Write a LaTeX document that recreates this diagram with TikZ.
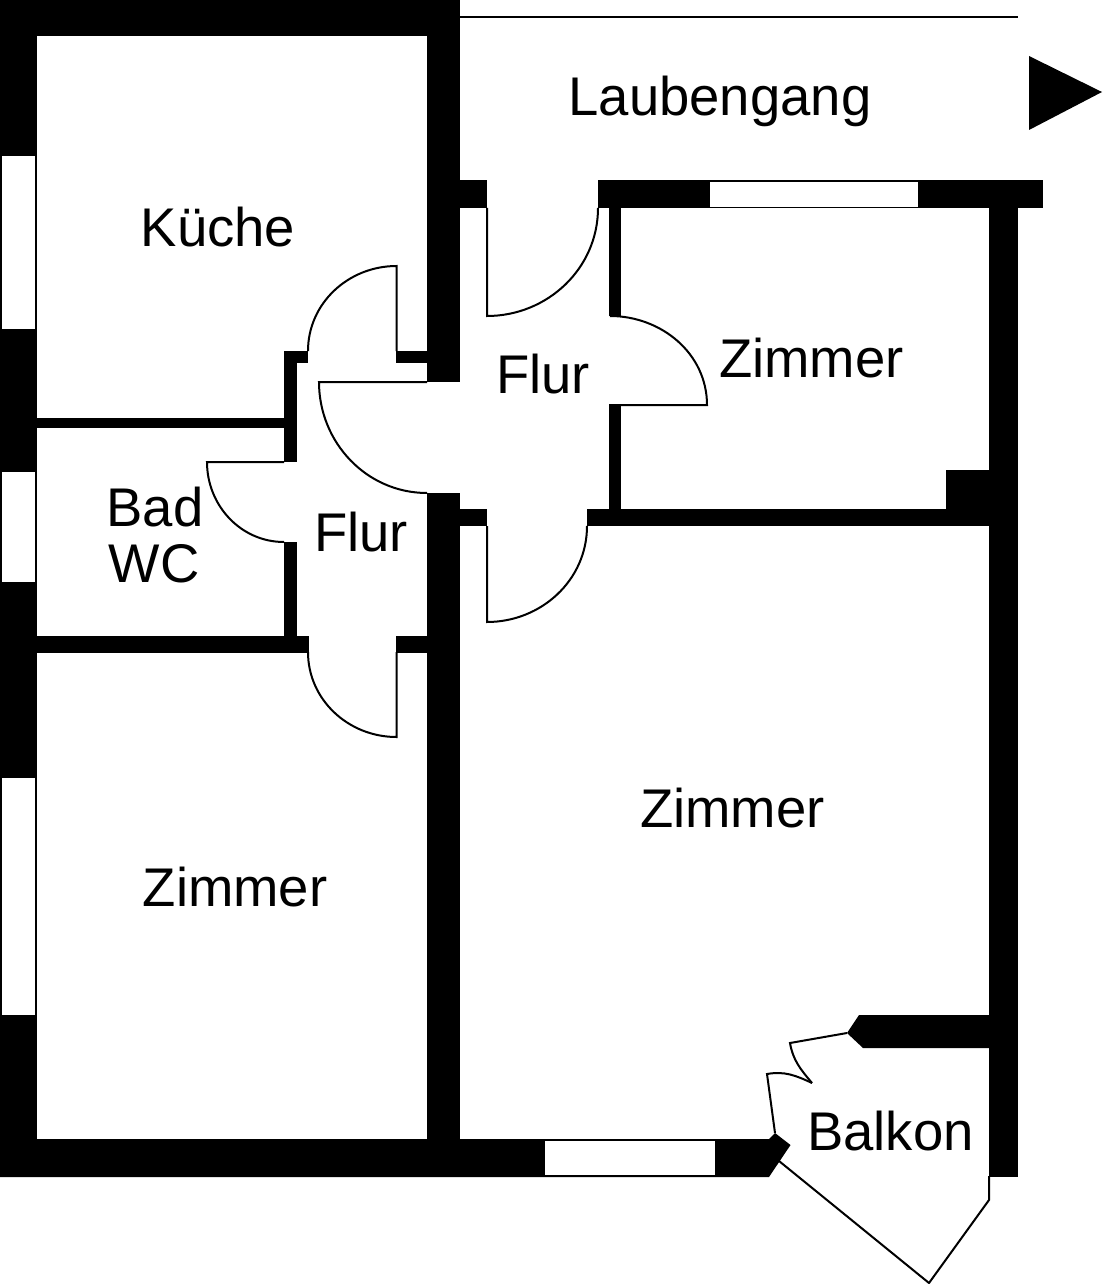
\documentclass[tikz,border=0pt]{standalone}
\usepackage{fontspec}
\setmainfont{Liberation Sans}
\begin{document}
\begin{tikzpicture}[x=0.02cm, y=-0.02cm,
        wall/.style={fill=black},
        pane/.style={fill=white},
        door/.style={draw=black, line width=0.04cm, line join=miter},
        room/.style={anchor=base, inner sep=0pt, font=\fontsize{31}{31}\selectfont}]
     \useasboundingbox (0,0) rectangle (1102,1284);
     \fill[wall] (0,0) rectangle (36.7,1177);
     \fill[wall] (0,0) rectangle (460,36);
     \fill[wall] (427,0) rectangle (460,382);
     \fill[wall] (427,493) rectangle (460,1177);
     \fill[wall] (460,180) rectangle (487,208.5);
     \fill[wall] (598,180) rectangle (1043,208.5);
     \fill[wall] (460,509) rectangle (487,526);
     \fill[wall] (587,509) rectangle (989,526);
     \fill[wall] (609,208) rectangle (621,316);
     \fill[wall] (609,405) rectangle (621,510);
     \fill[wall] (989,208) rectangle (1018,1177);
     \fill[wall] (946,470) rectangle (989,510);
     \fill[wall] (36,418) rectangle (285,428);
     \fill[wall] (284,351) rectangle (297,462);
     \fill[wall] (284,351) rectangle (308,363);
     \fill[wall] (396,351) rectangle (427,363);
     \fill[wall] (284,542) rectangle (297,637);
     \fill[wall] (36,636) rectangle (308.5,652.5);
     \fill[wall] (395.5,636) rectangle (427,652.5);
     \fill[wall] (0,1139) -- (769,1139) -- (775,1133) -- (790.5,1145) -- (769,1177) -- (0,1177) -- cycle;
     \fill[wall] (989,1015) -- (859,1015) -- (847,1033) -- (863,1048) -- (989,1048) -- cycle;
     \fill[pane] (2,156) rectangle (35,328.5);
     \fill[pane] (2,472) rectangle (35,582);
     \fill[pane] (2,778) rectangle (35,1015);
     \fill[pane] (710,182) rectangle (918,207);
     \fill[pane] (545,1141) rectangle (715,1175);
     \draw[door] (460,17) -- (1018,17);
     \fill[wall] (1029,56) -- (1102,92) -- (1029,130) -- cycle;
     \draw[door] (487,208) -- (487,316) to[out=0, in=-90] (598,208);
     \draw[door] (396.5,351) -- (396.5,266) to[out=180, in=90] (308,351);
     \draw[door] (427,382) -- (319,382) to[out=-90, in=180] (427,493);
     \draw[door] (284,462) -- (207,462) to[out=-90, in=180] (284,542);
     \draw[door] (396.5,652) -- (396.5,737) to[out=180, in=-90] (308,652);
     \draw[door] (487,526) -- (487,622) to[out=0, in=-90] (587,526);
     \draw[door] (609,405) -- (707,405) to[out=90, in=0] (610,316);
     \draw[door] (847,1033) -- (790,1043) to[out=-80, in=130] (812,1083);
     \draw[door] (775,1133) -- (767,1074) to[out=10, in=155] (812,1083);
     \draw[door] (989,1176) -- (989,1200) -- (929,1283) -- (779,1161);
     \node (gang) at (720,116) [room] {Laubengang};
     \node (kueche) at (218,246.5) [room] {Küche};
     \node (zimmerA) at (811.5,377) [room] {Zimmer};
     \node (flurA) at (543,393) [room] {Flur};
     \node (flurB) at (361,551) [room] {Flur};
     \node (bad) at (155,526) [room] {Bad};
     \node (wc) at (154,582.5) [room] {WC};
     \node (zimmerB) at (732.5,827) [room] {Zimmer};
     \node (zimmerC) at (235,906) [room] {Zimmer};
     \node (balkon) at (890.5,1150) [room] {Balkon};
    \end{tikzpicture}
\end{document}
